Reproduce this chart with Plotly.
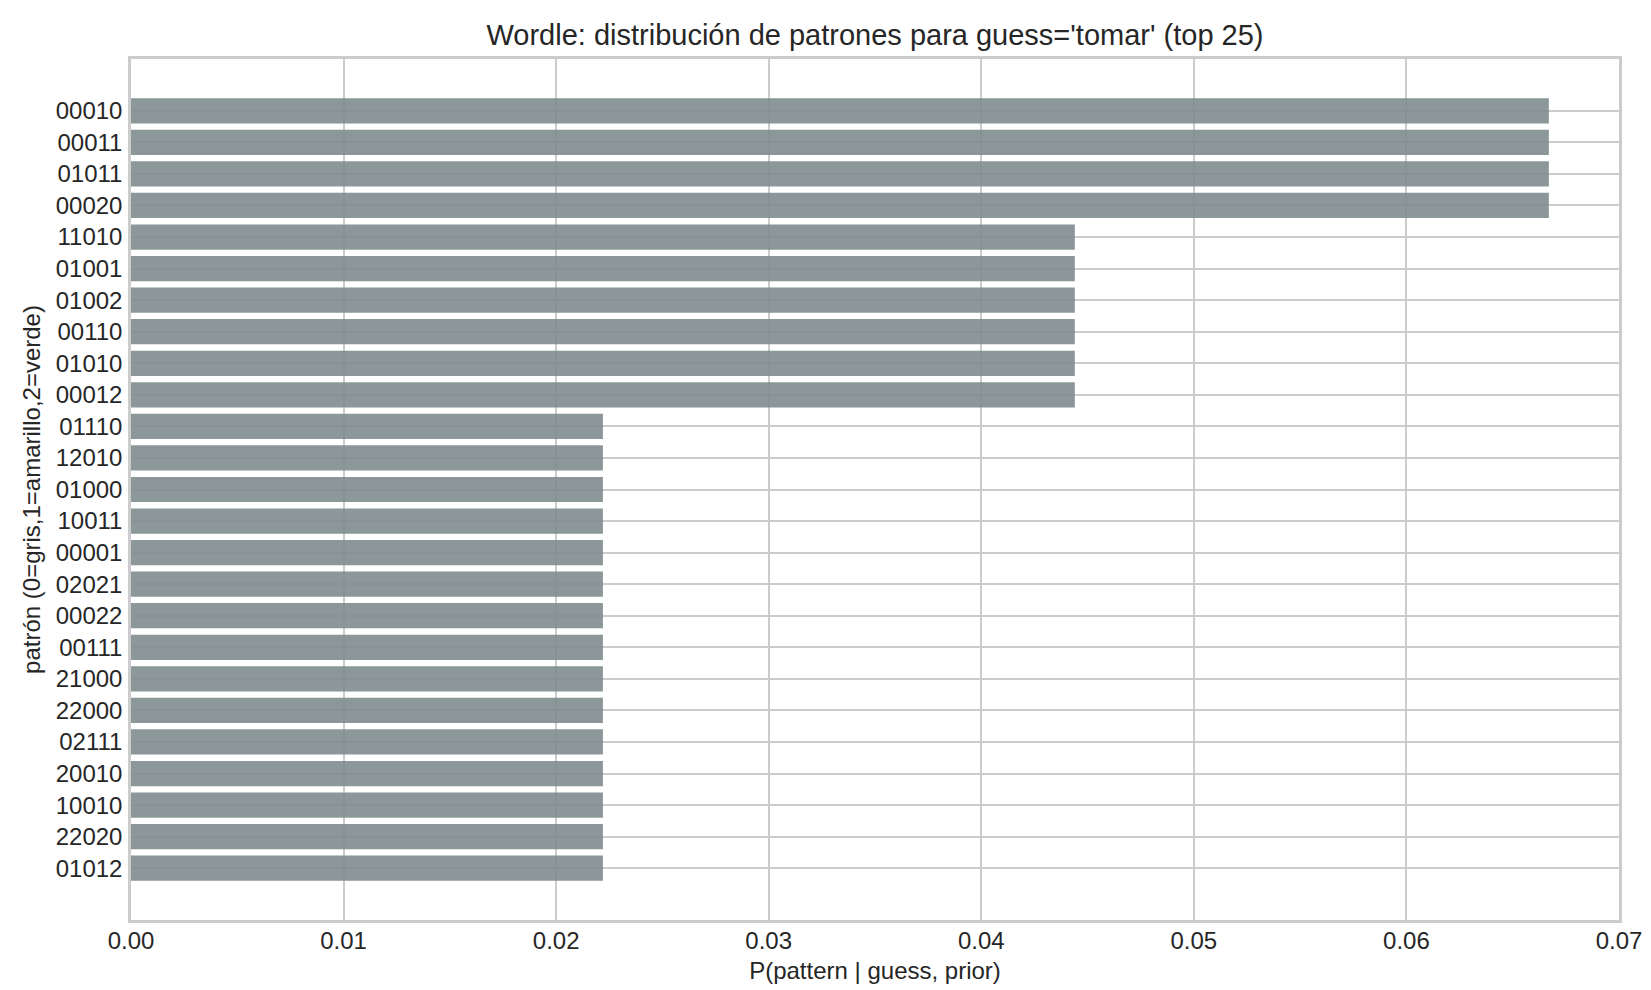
import plotly.graph_objects as go

# patrones de feedback (0=gris, 1=amarillo, 2=verde) y su probabilidad
patterns = ["00010", "00011", "01011", "00020", "11010", "01001", "01002", "00110",
            "01010", "00012", "01110", "12010", "01000", "10011", "00001", "02021",
            "00022", "00111", "21000", "22000", "02111", "20010", "10010", "22020",
            "01012"]
probs = [0.0667, 0.0667, 0.0667, 0.0667, 0.0444, 0.0444, 0.0444, 0.0444,
         0.0444, 0.0444, 0.0222, 0.0222, 0.0222, 0.0222, 0.0222, 0.0222,
         0.0222, 0.0222, 0.0222, 0.0222, 0.0222, 0.0222, 0.0222, 0.0222,
         0.0222]
x_ticks = [0.0, 0.01, 0.02, 0.03, 0.04, 0.05, 0.06, 0.07]

txt = "#262626"
grid = "#cccccc"
font = "Liberation Sans, Arial, sans-serif"

n = len(patterns)
pad = 0.05 * (n - 1 + 0.8)

L, R, T, B = 123, 40, 51, 78

fig = go.Figure(go.Bar(
    x=probs, y=patterns, orientation="h", width=0.8,
    marker=dict(color="#7f8c8d", line=dict(width=0)), opacity=0.9,
))

fig.update_layout(
    width=1651, height=990,
    margin=dict(l=L, r=R, t=T, b=B),
    paper_bgcolor="white", plot_bgcolor="white",
    font=dict(family=font, size=24, color=txt),
    title=dict(text="Wordle: distribución de patrones para guess='tomar' (top 25)",
               x=(L + 1651 - R) / 2 / 1651, xanchor="center", y=1 - 27 / 990, yanchor="middle",
               font=dict(size=29, color=txt)),
    showlegend=False,
    bargap=0.2,
)
fig.update_xaxes(
    range=[0, 0.07], tickvals=x_ticks, tickformat=".2f",
    showgrid=True, gridcolor=grid, gridwidth=2, zeroline=False,
    showline=True, linecolor=grid, linewidth=2.5, mirror=True,
    ticks="", ticklen=0, tickfont=dict(size=24, color=txt), ticklabelstandoff=-3,
    title=dict(text="P(pattern | guess, prior)", font=dict(size=24, color=txt), standoff=10),
)
fig.update_yaxes(
    type="category", categoryorder="array", categoryarray=patterns,
    range=[n - 1 + 0.4 + pad, -0.4 - pad],
    showgrid=True, gridcolor=grid, gridwidth=2, zeroline=False,
    showline=True, linecolor=grid, linewidth=2.5, mirror=True,
    ticks="", ticklen=0, tickfont=dict(size=24, color=txt), ticklabelstandoff=1,
    title=dict(text="patrón (0=gris,1=amarillo,2=verde)", font=dict(size=24, color=txt), standoff=9),
)

fig.write_html("out.html")
